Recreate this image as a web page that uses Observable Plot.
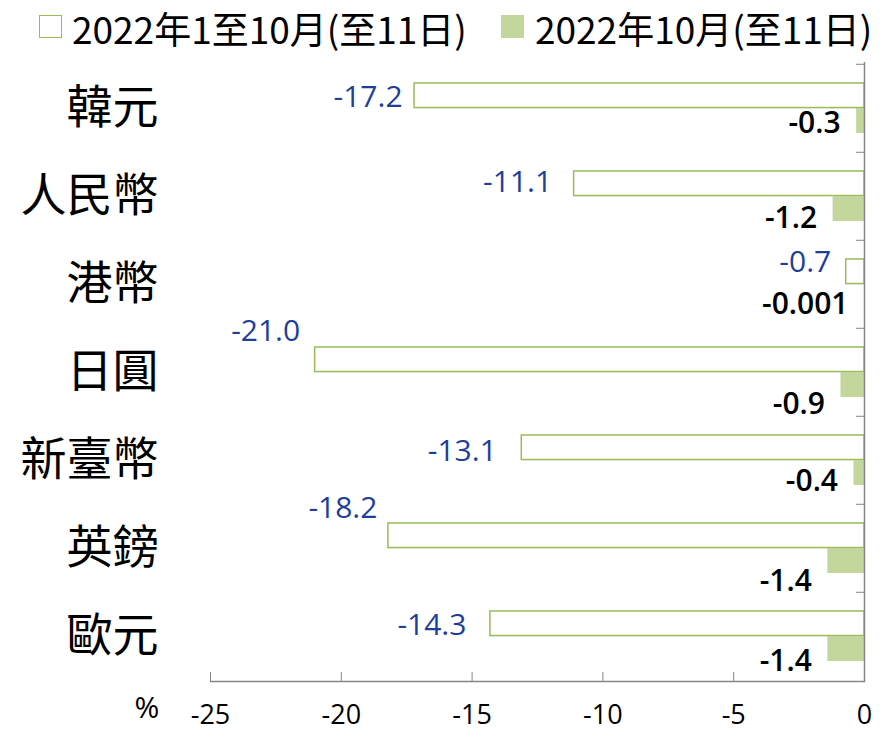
<!DOCTYPE html>
<html><head><meta charset="utf-8">
<script src="https://cdn.jsdelivr.net/npm/d3@7"></script>
<script src="https://cdn.jsdelivr.net/npm/@observablehq/plot@0.6"></script>
<style>
body{margin:0;background:#fff;}
#legend{position:relative;height:58px;width:884px;font-family:"Noto Sans CJK TC",sans-serif;font-size:37px;line-height:37px;color:#000;}
#legend .box{position:absolute;box-sizing:border-box;}
#legend .lab{position:absolute;white-space:nowrap;}
#chart svg{display:block;overflow:visible;}
</style></head><body>
<div id="legend"></div>
<div id="chart"></div>
<script>
const categories = ["韓元","人民幣","港幣","日圓","新臺幣","英鎊","歐元"];
const ytd = [-17.2,-11.1,-0.7,-21.0,-13.1,-18.2,-14.3];
const oct = [-0.3,-1.2,-0.001,-0.9,-0.4,-1.4,-1.4];
const xTicks = [-25,-20,-15,-10,-5,0];
const seriesNames = ["2022年1至10月(至11日)","2022年10月(至11日)"];

const outlineColor = "#9bbb59", fillColor = "#c3d69b", blue = "#1e3e9a", axisGray = "#868686";

// legend
const lg = document.getElementById("legend");
lg.innerHTML = `
<div class="box" style="left:39px;top:15px;width:23px;height:23px;border:1.5px solid ${outlineColor};background:#fff"></div>
<div class="lab" style="left:72px;top:10px">${seriesNames[0]}</div>
<div class="box" style="left:501px;top:15px;width:23px;height:23px;background:${fillColor}"></div>
<div class="lab" style="left:535px;top:10px">${seriesNames[1]}</div>`;

const W=884, H=674, mT=4, mB=51, mL=210, mR=20;
const bw=(H-mT-mB)/categories.length;
const rows = categories.map((c,i)=>({cat:c, ytd:ytd[i], oct:oct[i]}));

// label nudges (pixels)
const nudgeA = [[-12,-11],[-22,-14],[-15,-22],[-15,-41],[-25,-9],[-11,-40],[-24,-11]];
const nudgeB = [15,22,20,32,21,33,25];

const labelsA = rows.map((r,i)=>Plot.text([r],{x:"ytd", y:"cat", text:d=>d.ytd.toFixed(1), textAnchor:"end",
  dx:nudgeA[i][0], dy:nudgeA[i][1], fill:blue, fontSize:30, fontFamily:"'Open Sans', sans-serif"}));
const labelsB = rows.map((r,i)=>Plot.text([r],{x:"oct", y:"cat", text:d=>String(d.oct), textAnchor:"end",
  dx:-16, dy:nudgeB[i], fill:"#000", fontSize:30, fontWeight:600, fontFamily:"'Open Sans', sans-serif"}));

const chart = Plot.plot({
  width:W, height:H, marginTop:mT, marginBottom:mB, marginLeft:mL, marginRight:mR,
  style:{fontFamily:"'Open Sans', sans-serif", background:"#fff", fontSize:"27px", overflow:"visible"},
  x:{domain:[-25,0]},
  y:{domain:categories, padding:0},
  marks:[
    Plot.barX(rows,{y:"cat", x1:0, x2:"ytd", fill:"white", stroke:outlineColor, strokeWidth:1.5, insetTop:19, insetBottom:bw-44}),
    Plot.barX(rows,{y:"cat", x1:0, x2:"oct", fill:fillColor, insetTop:44, insetBottom:19,
      style:"filter:drop-shadow(-1px 3px 2px rgba(0,0,0,0.25))"}),
    Plot.frame({anchor:"bottom", stroke:axisGray, strokeWidth:1.5}),
    Plot.ruleX([0],{stroke:axisGray, strokeWidth:1.5}),
    Plot.axisX({anchor:"bottom", ticks:xTicks, tickFormat:d=>String(d), tickSize:-9, tickPadding:32, stroke:axisGray, fill:"#000", fontSize:27, label:null}),
    Plot.axisY({anchor:"left", tickSize:0, tickPadding:52, fontSize:46, fontFamily:"'Noto Sans CJK TC', sans-serif", fill:"#000", label:null}),
    Plot.axisY({anchor:"right", tickSize:-9, tickFormat:()=>"", dy:-bw/2, stroke:axisGray, label:null}),
    Plot.text(["%"],{frameAnchor:"bottom-left", text:d=>d, dx:-76, dy:36, fontSize:30, fill:"#000"}),
    ...labelsA,
    ...labelsB
  ]
});
document.getElementById("chart").appendChild(chart);
</script></body></html>
